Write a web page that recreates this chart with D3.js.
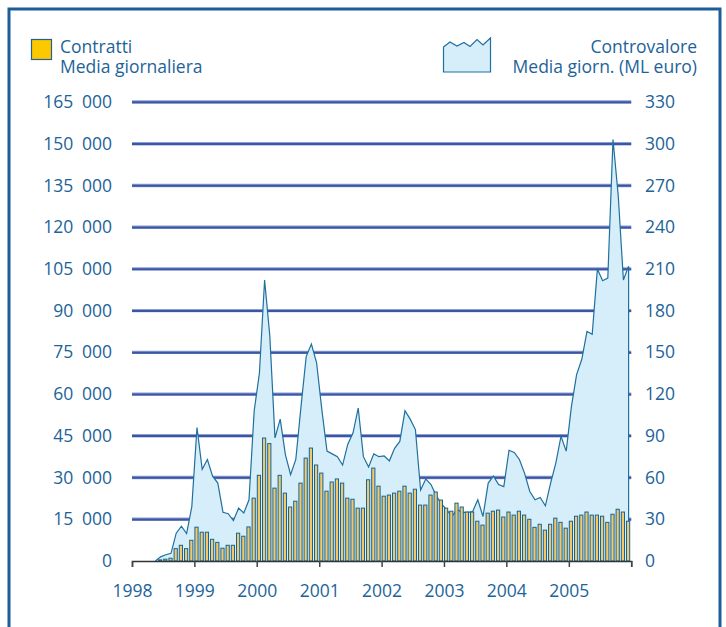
<!DOCTYPE html>
<html><head><meta charset="utf-8">
<script src="https://cdn.jsdelivr.net/npm/d3@7"></script>
<style>
html,body{margin:0;padding:0;background:#fff;}
svg{display:block;font-family:"Open Sans",sans-serif;}
</style></head>
<body><svg id="c" width="726" height="627"></svg>
<script>
// ---- data ----
const startYear = 1998, endYear = 2006;
const yearLabels = ["1998","1999","2000","2001","2002","2003","2004","2005",""];
const leftTicks = [0,15000,30000,45000,60000,75000,90000,105000,120000,135000,150000,165000];
const rightTicks = [0,30,60,90,120,150,180,210,240,270,300,330];
// Contratti, media giornaliera (monthly, Jan 1998 - Dec 2005)
const contratti = [
 0,0,0,0,0,400,650,1000,4450,5650,4450,7450,
 12150,10350,10350,7800,6700,4600,5650,5650,10000,8900,12250,22600,
 30800,44200,42200,26200,30800,24400,19400,21500,28000,37000,40600,34500,
 31600,25100,28400,29500,28000,22600,22200,19000,19000,29200,33400,26900,
 23300,23700,24400,25100,26900,24400,25800,20100,20100,23700,24800,21900,
 19000,17900,20800,19400,17600,17600,14300,12900,17200,17900,18300,15800,
 17600,16500,17900,16500,15000,12100,13200,11100,13200,15400,13900,11800,
 14300,16100,16500,17600,16500,16500,16100,13900,16800,18600,17600,14300
];
// Controvalore, media giornaliera (ML euro)
const controvalore = [
 null,null,null,null,0,3,4.5,5.5,20,25,19.7,39,
 96,66,73,61,56,35,34,29,38,34.5,44,108,
 135,202,162,88.5,102,76.5,62,73,111,147,156,142.5,
 109,79,77,75,69,84,92,110,75,67.6,77,75,
 75.5,72,81,86,108,102,94.5,51,59,55,47,41,
 37,32,37,35,35,35.5,44,32,56,61,55,53.5,
 79.6,78,73,63,50,44,45.7,39.7,56,70.4,89.7,79,
 111,134,145,165,163,210,201.5,203.4,303,263,202,212
];
const legendLeft = ["Contratti","Media giornaliera"];
const legendRight = ["Controvalore","Media giorn. (ML euro)"];

// ---- chart ----
const svg = d3.select("#c");
const textCol = "#1d6399";
const months = d3.timeMonth.range(new Date(startYear,0,1), new Date(endYear,0,1));
const x0 = 132, x1 = 631.2, yBase = 561, yTop = 102;

const xb = d3.scaleBand().domain(months).range([x0,x1]).paddingInner(0).paddingOuter(0);
const xt = d3.scaleTime().domain([new Date(startYear,0,1), new Date(endYear,0,1)]).range([x0,x1]);
const yL = d3.scaleLinear().domain([0,165000]).range([yBase,yTop]);
const yR = d3.scaleLinear().domain([0,330]).range([yBase,yTop]);

// frame
svg.append("path").attr("d","M9,640 L9,9 L720,9 L720,640")
  .attr("fill","none").attr("stroke","#1f5c9b").attr("stroke-width",3);

// gridlines
const grid = svg.append("g");
leftTicks.filter(d=>d>0).forEach(d=>{
  grid.append("line").attr("x1",x0).attr("x2",x1).attr("y1",yL(d)).attr("y2",yL(d))
    .attr("stroke","#8b9ed2").attr("stroke-width",3.4);
  grid.append("line").attr("x1",x0).attr("x2",x1).attr("y1",yL(d)+0.3).attr("y2",yL(d)+0.3)
    .attr("stroke","#3c56a6").attr("stroke-width",2);
});

// area
const step = xb.step();
const area = d3.area()
  .defined(d=>d.v!=null)
  .x(d=>xb(d.m)+step/2)
  .y0(yBase).y1(d=>yR(d.v));
const adata = months.map((m,i)=>({m, v: controvalore[i]}));
svg.append("path").datum(adata).attr("d",area).attr("fill","#d6eefa").attr("stroke","none");
const line = d3.line().defined(d=>d.v!=null).x(d=>xb(d.m)+step/2).y(d=>yR(d.v));
const defined = adata.filter(d=>d.v!=null);
const last = defined[defined.length-1];
svg.append("path").datum(defined).attr("d", line(defined) + `L${xb(last.m)+step/2},${yBase}`)
  .attr("fill","none").attr("stroke","#1f6f9f").attr("stroke-width",1.2).attr("stroke-linejoin","miter");

// bars
svg.append("g").selectAll("rect").data(months.map((m,i)=>({m,v:contratti[i]})).filter(d=>d.v>0))
  .join("rect")
  .attr("x",d=>xb(d.m)+0.5).attr("width",step-2)
  .attr("y",d=>yL(d.v)).attr("height",d=>yBase-yL(d.v))
  .attr("fill","#f5c865").attr("stroke","#13659b").attr("stroke-width",1);

// x axis
const fmtYear = d=>yearLabels[d.getFullYear()-startYear];
const xAxis = d3.axisBottom(xt).ticks(d3.timeYear.every(1)).tickSize(6).tickPadding(18).tickFormat(fmtYear);
const gx = svg.append("g").attr("transform",`translate(0,${yBase})`).call(xAxis);
gx.select(".domain").attr("stroke","#333").attr("stroke-width",1.5);
gx.selectAll(".tick line").attr("stroke","#444").attr("stroke-width",1.5);
gx.selectAll(".tick text").attr("fill",textCol).attr("font-size",17.5).attr("font-family","Open Sans");

// y axes labels
const loc = d3.formatLocale({decimal:",",thousands:"\u2002",grouping:[3],currency:["",""]});
const fmtL = loc.format(",d");
const gyl = svg.append("g").attr("transform",`translate(112,0)`)
  .call(d3.axisLeft(yL).tickValues(leftTicks).tickSize(0).tickPadding(0).tickFormat(fmtL));
gyl.select(".domain").remove();
gyl.selectAll("text").attr("fill",textCol).attr("font-size",17.5).attr("font-family","Open Sans");
const gyr = svg.append("g").attr("transform",`translate(645,0)`)
  .call(d3.axisRight(yR).tickValues(rightTicks).tickSize(0).tickPadding(0));
gyr.select(".domain").remove();
gyr.selectAll("text").attr("fill",textCol).attr("font-size",17.5).attr("font-family","Open Sans");

// legend
svg.append("rect").attr("x",31.5).attr("y",39.5).attr("width",20).attr("height",20)
  .attr("fill","#fcc800").attr("stroke","#1e6297").attr("stroke-width",1.2);
legendLeft.forEach((t,i)=>svg.append("text").attr("x",60).attr("y",53+i*20).text(t)
  .attr("fill",textCol).attr("font-size",17.5));
svg.append("path").attr("d","M443.5,47 L450,42 L457,46 L464,42.5 L470,46.5 L477,39.5 L483,45 L490.5,38 L490.5,72 L443.5,72 Z")
  .attr("fill","#d6eefa").attr("stroke","#1f6f9f").attr("stroke-width",1.2);
legendRight.forEach((t,i)=>svg.append("text").attr("x",697).attr("y",53+i*20).attr("text-anchor","end").text(t)
  .attr("fill",textCol).attr("font-size",17.5));
</script></body></html>
